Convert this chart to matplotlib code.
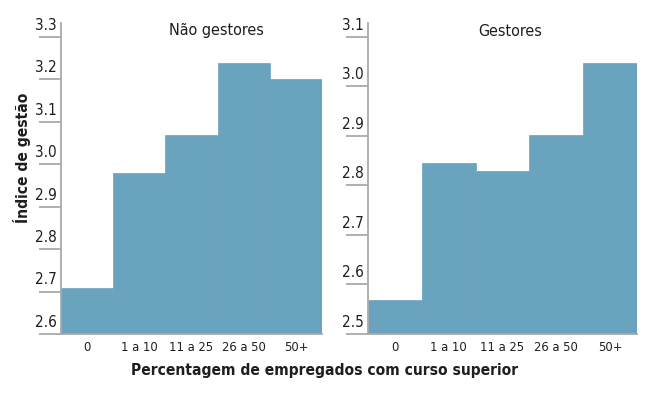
import matplotlib
matplotlib.use("Agg")
import matplotlib.pyplot as plt
from matplotlib import transforms

# data
categorias = ["0", "1 a 10", "11 a 25", "26 a 50", "50+"]
nao_gestores = [2.708, 2.979, 3.070, 3.239, 3.201]
gestores = [2.569, 2.846, 2.830, 2.902, 3.048]
ticks_nao = [2.6, 2.7, 2.8, 2.9, 3.0, 3.1, 3.2, 3.3]
ticks_ges = [2.5, 2.6, 2.7, 2.8, 2.9, 3.0, 3.1]

cor_barra = "#6aa3be"
cor_eixo = "#a9a9a9"
cor_texto = "#1e1e1e"
fonte = "DejaVu Sans"

fig = plt.figure(figsize=(6.5, 3.99), dpi=100)
W, H = 650, 399


def painel(x0, x1, valores, ticks, ymax, titulo, titulo_x):
    ax = fig.add_axes([x0 / W, (H - 334) / H, (x1 - x0) / W, (334 - 23) / H])
    pos = list(range(len(categorias)))
    ax.bar(pos, valores, width=1.0, color=cor_barra, edgecolor=cor_barra,
           linewidth=0.5)
    ax.set_xlim(-0.5, len(categorias) - 0.5)
    ax.set_ylim(ticks[0], ymax)
    for s in ["top", "right"]:
        ax.spines[s].set_visible(False)
    for s in ["left", "bottom"]:
        ax.spines[s].set_color(cor_eixo)
        ax.spines[s].set_linewidth(1.3)
    ax.set_xticks(pos)
    ax.set_xticklabels(categorias, fontsize=9.3, color=cor_texto,
                       family=fonte, fontstretch="condensed")
    ax.tick_params(axis="x", length=0, pad=5)
    ax.set_yticks(ticks)
    ax.set_yticklabels([f"{t:.1f}" for t in ticks], fontsize=11,
                       color=cor_texto, family=fonte, fontstretch="condensed")
    ax.tick_params(axis="y", length=16, width=1.3, color=cor_eixo,
                   pad=-13)
    off = transforms.ScaledTranslation(0, 3 / 72, fig.dpi_scale_trans)
    for lab in ax.get_yticklabels():
        lab.set_va("bottom")
        lab.set_transform(lab.get_transform() + off)
    ax.text((titulo_x - x0) / (x1 - x0), (334 - 31) / (334 - 23), titulo,
            transform=ax.transAxes, ha="center", va="center",
            fontsize=11.5, color=cor_texto, family=fonte,
            fontstretch="condensed")
    return ax


painel(61, 322, nao_gestores, ticks_nao, 3.333, "Não gestores", 216)
painel(368, 637, gestores, ticks_ges, 3.128, "Gestores", 510)

fig.text(22 / W, (H - 158) / H, "Índice de gestão", rotation=90,
         ha="center", va="center", fontsize=11.2, fontweight="bold",
         color=cor_texto, family=fonte, fontstretch="condensed")
fig.text(325 / W, (H - 371) / H,
         "Percentagem de empregados com curso superior",
         ha="center", va="center", fontsize=11.2, fontweight="bold",
         color=cor_texto, family=fonte, fontstretch="condensed")

fig.savefig("out.png", dpi=100)
